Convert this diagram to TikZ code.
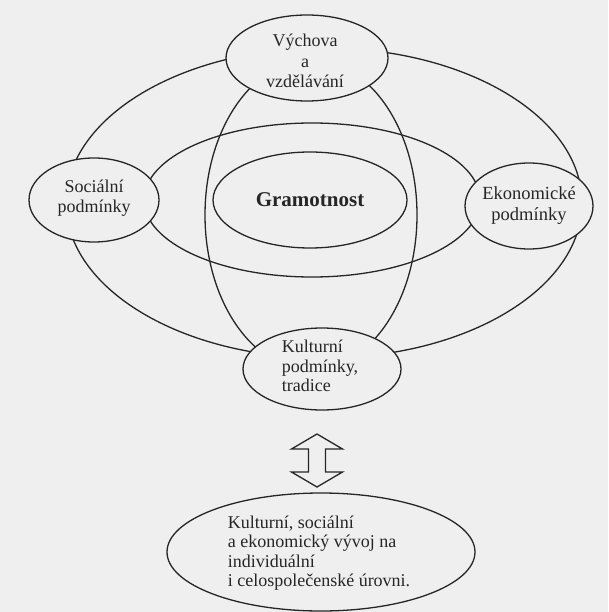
\documentclass[tikz,border=0pt]{standalone}
\usepackage{fontspec}
\setmainfont{Liberation Serif}
\usetikzlibrary{shapes.geometric,calc}
\definecolor{paper}{HTML}{EFEFEF}
\definecolor{ink}{HTML}{262626}
\begin{document}
\begin{tikzpicture}[x=1pt,y=-1pt,
  ring/.style={draw=ink,line width=1.3pt,ellipse,inner sep=0pt},
  bubble/.style={ring,fill=paper},
  lbl/.style={text=ink,inner sep=0pt,font=\fontsize{18}{20.5}\selectfont}]
  \fill[paper] (0,0) rectangle (608,612);
  \useasboundingbox (0,0) rectangle (608,612);
  % large background rings
  \node[ring,minimum width=516pt,minimum height=310pt] (outer) at (324,203) {};
  \node[ring,minimum width=336pt,minimum height=154pt] (middle) at (312,200) {};
  \node[ring,minimum width=212pt,minimum height=310pt] (vert) at (311,215) {};
  % centre
  \node[ring,minimum width=194pt,minimum height=96pt] (gram) at (310,200) {};
  \node[lbl,font=\fontsize{21}{24}\bfseries\selectfont] (gramtxt) at (gram) {Gramotnost};
  % factor bubbles
  \node[bubble,minimum width=162pt,minimum height=86pt] (vych) at (307,58) {};
  \node[lbl,align=center] (vychtxt) at ($(vych)+(-2,3)$) {Výchova\\a\\vzdělávání};
  \node[bubble,minimum width=130pt,minimum height=84pt] (soc) at (94,200) {};
  \node[lbl,align=center] (soctxt) at ($(soc)+(0,-2)$) {Sociální\\podmínky};
  \node[bubble,minimum width=128pt,minimum height=86pt] (eko) at (529,206) {};
  \node[lbl,align=center,font=\fontsize{18.5}{21}\selectfont] (ekotxt) at (eko) {Ekonomické\\podmínky};
  \node[bubble,minimum width=158pt,minimum height=82pt] (kult) at (322,369) {};
  \node[lbl,align=left,font=\fontsize{18}{19.5}\selectfont] (kulttxt) at ($(kult)+(-2,-3)$)
      {Kulturní\\podmínky,\\tradice};
  % development bubble
  \node[bubble,minimum width=308pt,minimum height=118pt] (vyvoj) at (321,552) {};
  \node[lbl,align=left,font=\fontsize{18}{19.5}\selectfont] (vyvojtxt) at ($(vyvoj)+(-2,1)$)
      {Kulturní, sociální\\a ekonomický vývoj na\\individuální\\i celospolečenské úrovni.};
  % block double arrow between the two levels
  \coordinate (arr) at (317,460.5);
  \draw[ink,line width=1.3pt,line join=miter]
    ($(arr)+(0,-26.5)$) -- ++(25.5,15) -- ++(-17,0) -- ++(0,23) -- ++(17,0)
    -- ($(arr)+(0,26.5)$) -- ++(-25.5,-15) -- ++(17,0) -- ++(0,-23) -- ++(-17,0) -- cycle;
\end{tikzpicture}
\end{document}
